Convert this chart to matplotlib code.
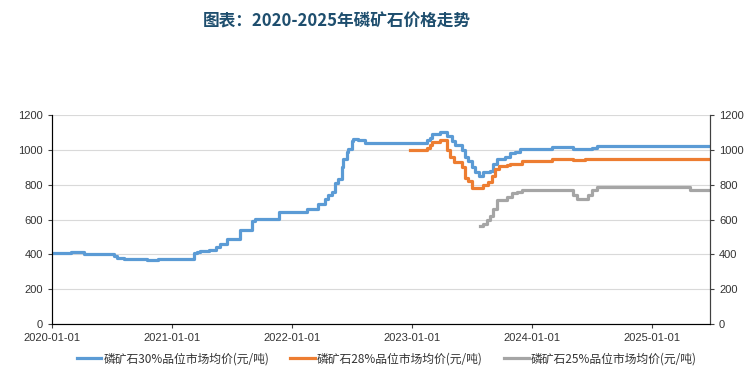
import matplotlib
matplotlib.use('Agg')
import matplotlib.pyplot as plt
import matplotlib.dates as mdates
import pandas as pd

plt.rcParams['font.family'] = ['Noto Sans CJK SC', 'DejaVu Sans']

# step-change points (date, price yuan/ton)
p30_dates = ['2020-01-01', '2020-02-27', '2020-04-06', '2020-07-07', '2020-07-17', '2020-08-06',
             '2020-10-16', '2020-11-20', '2021-03-07', '2021-03-17', '2021-03-27', '2021-04-22',
             '2021-05-15', '2021-05-27', '2021-06-16', '2021-07-27', '2021-08-31', '2021-09-11',
             '2021-11-23', '2022-02-15', '2022-03-22', '2022-04-11', '2022-04-22', '2022-05-02',
             '2022-05-12', '2022-05-22', '2022-06-01', '2022-06-06', '2022-06-16', '2022-06-21',
             '2022-07-02', '2022-07-07', '2022-07-22', '2022-08-11', '2023-02-16', '2023-02-26',
             '2023-03-03', '2023-03-28', '2023-04-17', '2023-05-03', '2023-05-13', '2023-06-02',
             '2023-06-12', '2023-06-22', '2023-07-03', '2023-07-13', '2023-07-23', '2023-08-07',
             '2023-08-27', '2023-09-06', '2023-09-17', '2023-10-12', '2023-10-27', '2023-11-11',
             '2023-11-27', '2024-03-02', '2024-05-07', '2024-07-02', '2024-07-17', '2025-06-26']
p30_vals = [405, 415, 400, 390, 380, 375,
            370, 375, 405, 415, 418, 425,
            440, 462, 490, 538, 590, 605,
            645, 658, 690, 720, 740, 760,
            810, 830, 900, 945, 990, 1005,
            1050, 1062, 1055, 1040, 1055, 1070,
            1090, 1100, 1080, 1050, 1030, 1000,
            960, 935, 900, 870, 852, 870,
            880, 920, 950, 960, 980, 990,
            1005, 1015, 1005, 1010, 1020, 1020]

p28_dates = ['2022-12-27', '2023-02-16', '2023-02-26', '2023-03-03', '2023-03-28', '2023-04-17',
             '2023-04-28', '2023-05-08', '2023-06-02', '2023-06-12', '2023-06-22', '2023-07-03',
             '2023-08-07', '2023-08-22', '2023-09-01', '2023-09-12', '2023-09-22', '2023-10-17',
             '2023-10-27', '2023-12-02', '2024-03-02', '2024-05-07', '2024-06-11', '2025-06-26']
p28_vals = [1000, 1010, 1030, 1045, 1055, 1000,
            960, 930, 900, 840, 820, 780,
            800, 815, 850, 890, 908, 915,
            920, 935, 950, 940, 945, 945]

p25_dates = ['2023-07-26', '2023-08-07', '2023-08-17', '2023-08-27', '2023-09-06', '2023-09-17',
             '2023-10-17', '2023-11-01', '2023-11-16', '2023-12-02', '2024-05-07', '2024-05-17',
             '2024-06-21', '2024-07-02', '2024-07-17', '2025-04-27', '2025-06-26']
p25_vals = [560, 575, 600, 620, 660, 710,
            730, 750, 760, 770, 740, 720,
            740, 770, 785, 770, 770]

labels = ['磷矿石30%品位市场均价(元/吨)', '磷矿石28%品位市场均价(元/吨)', '磷矿石25%品位市场均价(元/吨)']
colors = ['#5b9bd5', '#ed7d31', '#a5a5a5']
yticks = [0, 200, 400, 600, 800, 1000, 1200]

fig = plt.figure(figsize=(7.5, 3.87), dpi=100)
ax = fig.add_axes([52/750, 1-324/387, (710-52)/750, (324-115)/387])

series = [(p30_dates, p30_vals), (p28_dates, p28_vals), (p25_dates, p25_vals)]
for (d, v), c, lab in zip(series, colors, labels):
    ax.plot(pd.to_datetime(d), v, drawstyle='steps-post', color=c, lw=2.3, label=lab)

ax.set_xlim(pd.Timestamp('2020-01-01'), pd.Timestamp('2025-06-27'))
ax.set_ylim(0, 1200)
ax.set_yticks(yticks)
ax.xaxis.set_major_locator(mdates.YearLocator())
ax.xaxis.set_major_formatter(mdates.DateFormatter('%Y-%m-%d'))
ax.grid(axis='y', color='#d9d9d9', lw=0.8)
ax.set_axisbelow(True)
ax.spines['top'].set_visible(False)
for s in ['left', 'right', 'bottom']:
    ax.spines[s].set_color('#404040')
ax.tick_params(axis='both', labelsize=8, length=3, color='#404040', labelcolor='#333333')

ax2 = ax.twinx()
ax2.set_ylim(0, 1200)
ax2.set_yticks(yticks)
ax2.spines['top'].set_visible(False)
ax2.spines['right'].set_color('#404040')
ax2.tick_params(axis='y', labelsize=8, length=3, color='#404040', labelcolor='#333333')

for t in ax.get_xticklabels() + ax.get_yticklabels() + ax2.get_yticklabels():
    t.set_family(['Liberation Sans', 'DejaVu Sans'])

fig.text(203/750, 1-22/387, '图表：2020-2025年磷矿石价格走势', fontsize=12, fontweight='bold',
         color='#1e4e6e', ha='left', va='center')

fig.legend(*ax.get_legend_handles_labels(), loc='center left', bbox_to_anchor=(66/750, 1-359/387),
           ncol=3, frameon=False, fontsize=8.5, handlelength=2.1, handletextpad=0.15,
           columnspacing=1.8, labelcolor='#333333')

fig.savefig('out.png', dpi=100)
